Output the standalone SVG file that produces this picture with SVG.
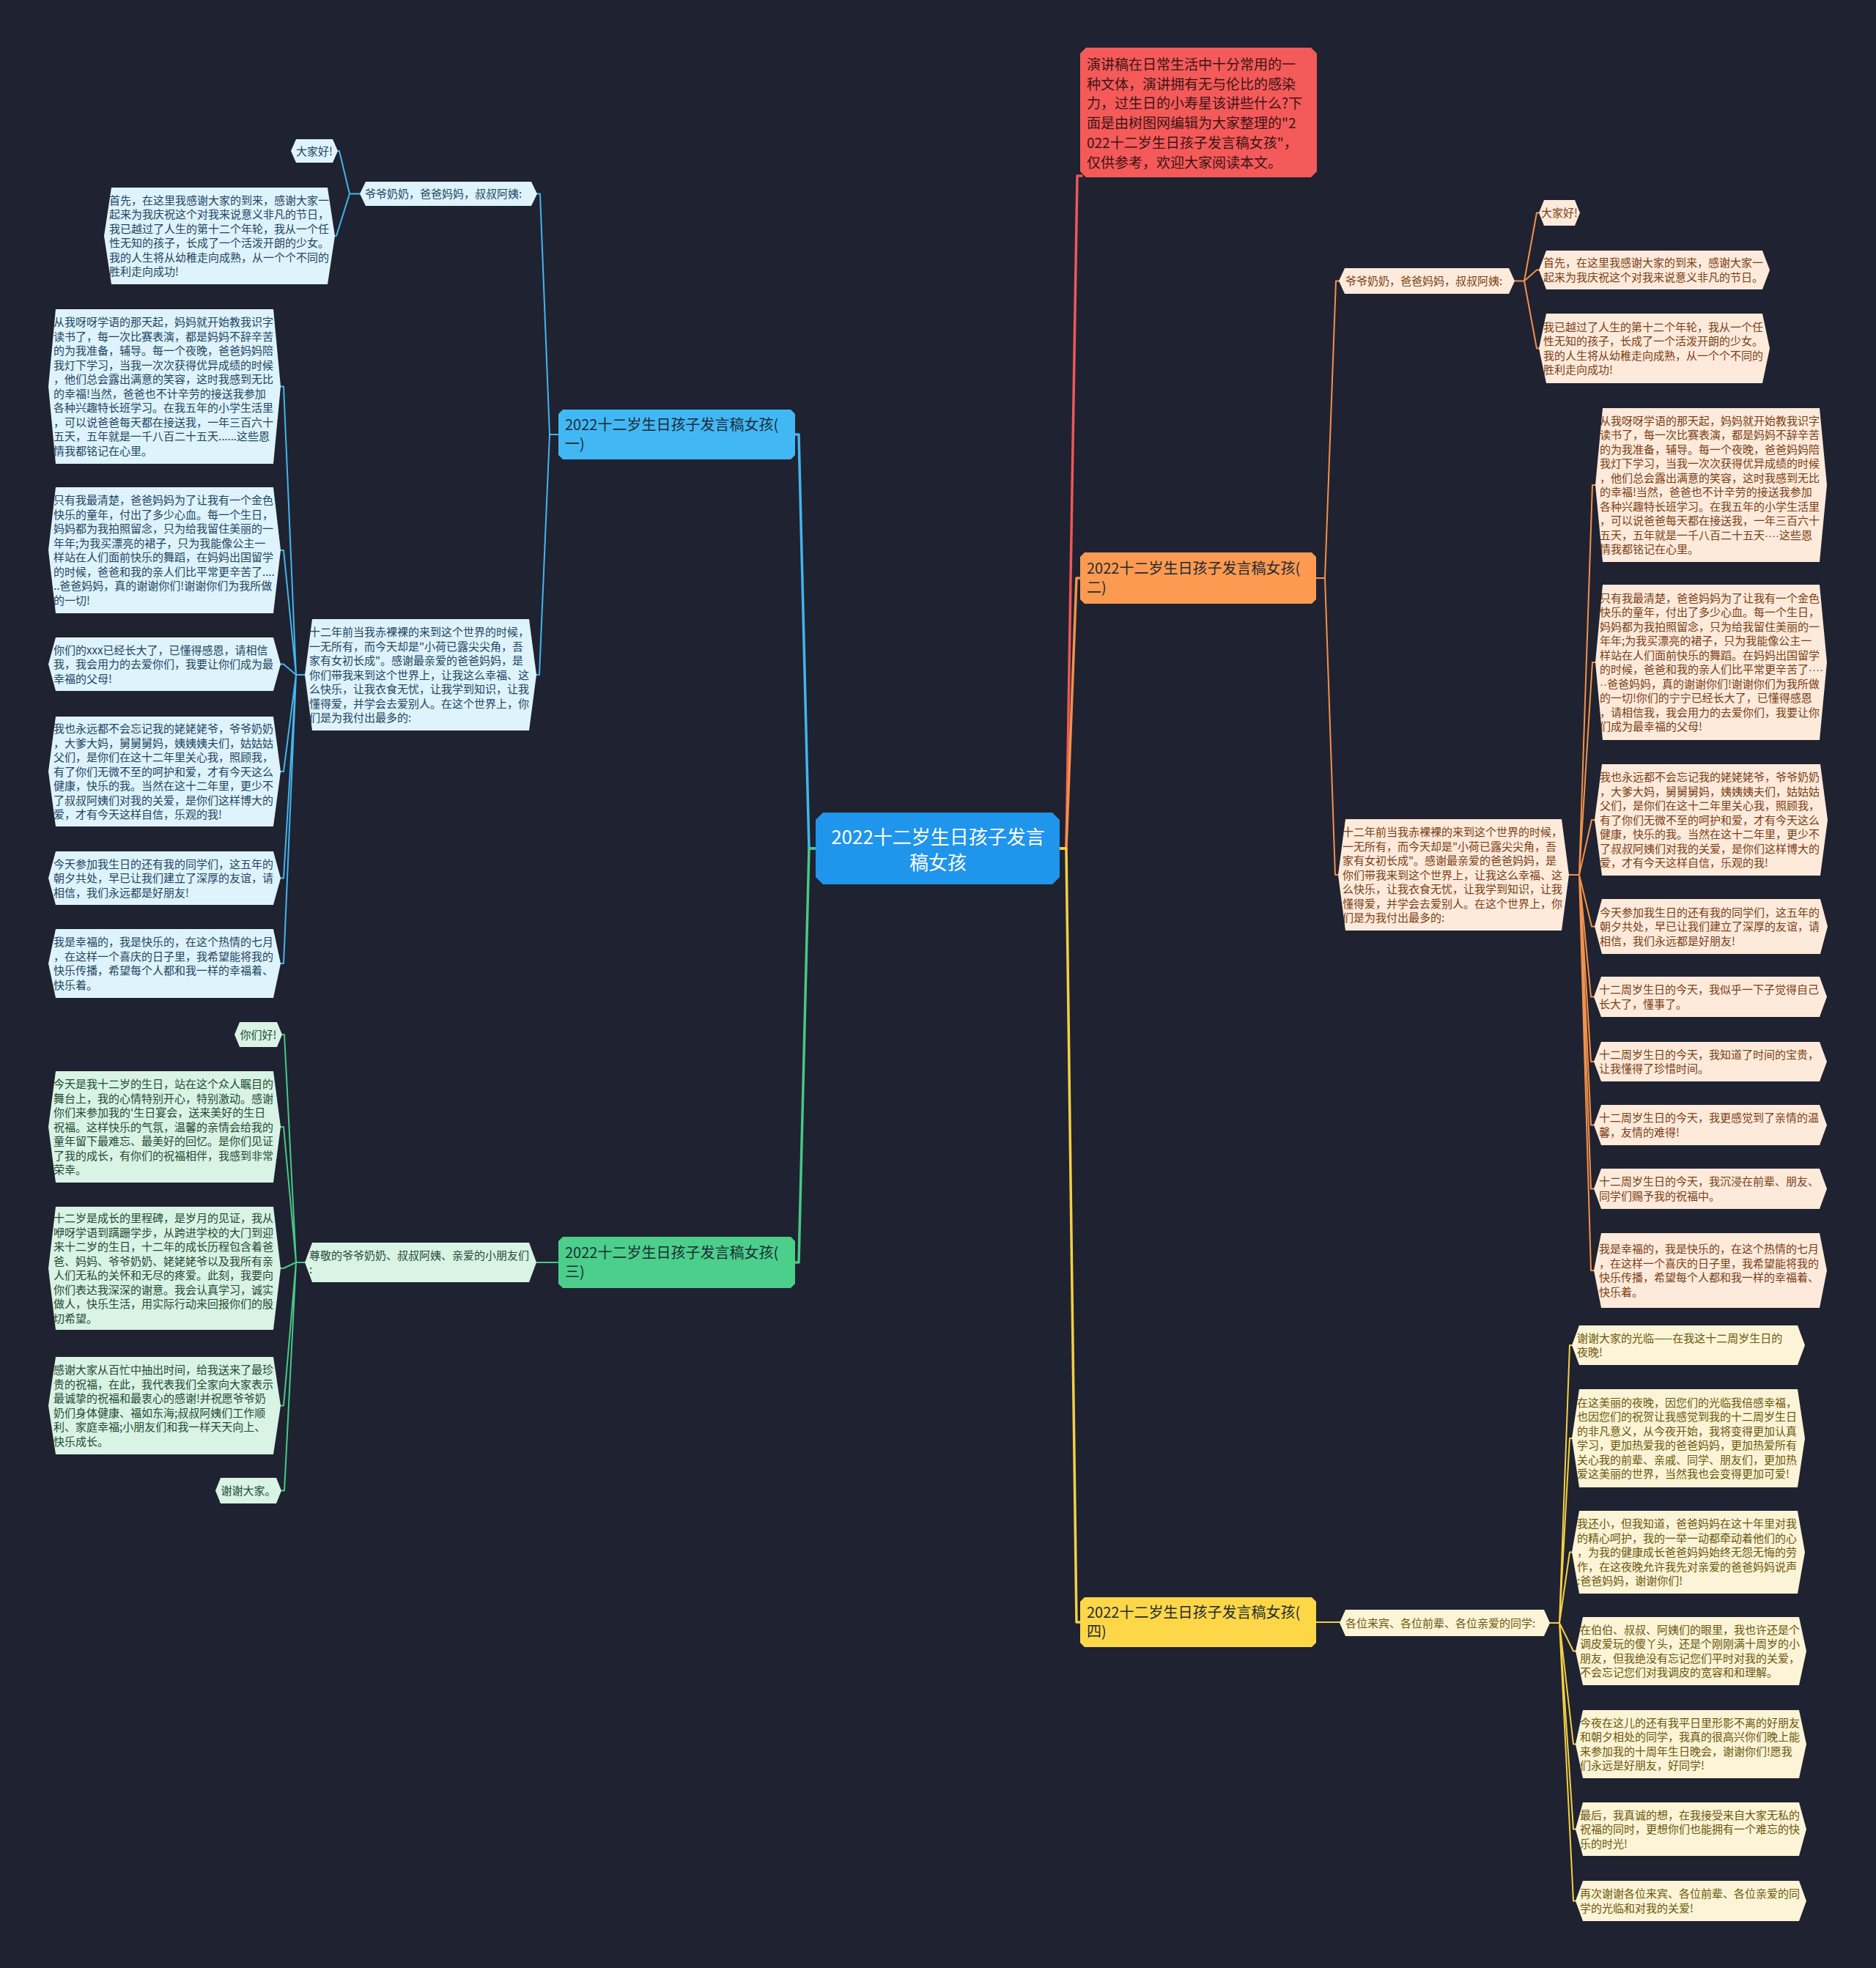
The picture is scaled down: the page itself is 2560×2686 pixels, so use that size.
<svg xmlns="http://www.w3.org/2000/svg" width="2560" height="2686" viewBox="0 0 2560 2686">
<style>
text{font-family:"Noto Sans CJK SC","Noto Sans",sans-serif;}
.t{font-size:15px;}
.d{font-family:"Liberation Sans",sans-serif;}
.lb{fill:#def3fc;} .tb{fill:#1d4560;}
.lg{fill:#d9f3e5;} .tg{fill:#1e4a33;}
.lo{fill:#fdeadb;} .to{fill:#7a3e14;}
.ly{fill:#fcf4d6;} .ty{fill:#6a570c;}
.br{font-size:20px;fill:#1d2a36;}
.c{fill:none;stroke-linejoin:round;stroke-linecap:round;}
.cb{stroke:#42b5ef;} .cg{stroke:#46c987;} .co{stroke:#f3914b;} .cr{stroke:#ef5757;} .cy{stroke:#f3d043;}
.m{stroke-width:3.5;} .s{stroke-width:2;}
</style>
<rect width="2560" height="2686" fill="#1f2230"/>
<g id="connectors">
<path class="c cb m" d="M1113,1158 H1104 L1090,593 H1085"/>
<path class="c cg m" d="M1113,1158 H1104 L1090,1723 H1085"/>
<path class="c cr m" d="M1446,1158 H1455 L1470,240 H1476"/>
<path class="c co m" d="M1446,1158 H1455 L1469,789 H1474"/>
<path class="c cy m" d="M1446,1158 H1455 L1469,2214 H1474"/>
<path class="c cb s" d="M762,593 H750 L737,264.5 H733 M750,593 L736,921 H732"/>
<path class="c cb s" d="M491,264.5 H477 L463,206 H461 M477,264.5 L459,322 H457"/>
<path class="c cb s" d="M416,921 H404 L387,527.5 H383 M404,921 L387,751 H383 M404,921 L387,906.5 H383 M404,921 L387,1053 H383 M404,921 L387,1198.5 H383 M404,921 L387,1315 H383"/>
<path class="c cg s" d="M762,1723 H732"/>
<path class="c cg s" d="M416,1723 H404 L388,1412 H385 M404,1723 L387,1538 H383 M404,1723 L387,1731 H383 M404,1723 L387,1918.5 H383 M404,1723 L388,2034.5 H384"/>
<path class="c co s" d="M1796,789 H1808 L1823,383.5 H1827 M1808,789 L1822,1194 H1826"/>
<path class="c co s" d="M2067,383.5 H2080 L2097,290.5 H2100 M2080,383.5 L2097,368.5 H2100 M2080,383.5 L2097,475.5 H2100"/>
<path class="c co s" d="M2141,1194 H2155 L2173,662 H2177 M2155,1194 L2173,904 H2177 M2155,1194 L2172,1119 H2176 M2155,1194 L2172,1264.5 H2176 M2155,1194 L2171,1360.5 H2175 M2155,1194 L2171,1449 H2175 M2155,1194 L2171,1535.5 H2175 M2155,1194 L2171,1622.5 H2175 M2155,1194 L2171,1734 H2175"/>
<path class="c cy s" d="M1796,2214 H1828"/>
<path class="c cy s" d="M2115,2215 H2128 L2142,1836 H2145 M2128,2215 L2142,1963 H2145 M2128,2215 L2142,2118.5 H2145 M2128,2215 L2147,2253.5 H2150 M2128,2215 L2147,2380.5 H2150 M2128,2215 L2147,2496.5 H2150 M2128,2215 L2147,2594.5 H2150"/>
</g>

<g id="root">
<polygon points="1123,1109 1436,1109 1446,1119 1446,1197 1436,1207 1123,1207 1113,1197 1113,1119" fill="#1f95eb"/>
<text x="1280" y="1152" font-size="26" fill="#ffffff" text-anchor="middle">2022十二岁生日孩子发言</text>
<text x="1280" y="1187" font-size="26" fill="#ffffff" text-anchor="middle">稿女孩</text>
</g>

<g id="intro">
<polygon points="1482,65 1789,65 1797,73 1797,234 1789,242 1482,242 1474,234 1474,73" fill="#f45a5a"/>
<text font-size="19" fill="#3b1414" x="1483" y="95"><tspan x="1483">演讲稿在日常生活中十分常用的一</tspan><tspan x="1483" dy="26.7">种文体，演讲拥有无与伦比的感染</tspan><tspan x="1483" dy="26.7">力，过生日的小寿星该讲些什么?下</tspan><tspan x="1483" dy="26.7">面是由树图网编辑为大家整理的"2</tspan><tspan x="1483" dy="26.7">022十二岁生日孩子发言稿女孩"，</tspan><tspan x="1483" dy="26.7">仅供参考，欢迎大家阅读本文。</tspan></text>
</g>

<g id="branch1">
<polygon points="768,559 1079,559 1085,565 1085,621 1079,627 768,627 762,621 762,565" fill="#41b8f4"/>
<text class="br" x="771" y="587"><tspan x="771">2022十二岁生日孩子发言稿女孩(</tspan><tspan x="771" dy="26">一)</tspan></text>
</g>
<g id="branch2">
<polygon points="1480,754 1790,754 1796,760 1796,818 1790,824 1480,824 1474,818 1474,760" fill="#fb9a50"/>
<text class="br" x="1483" y="783"><tspan x="1483">2022十二岁生日孩子发言稿女孩(</tspan><tspan x="1483" dy="26">二)</tspan></text>
</g>
<g id="branch3">
<polygon points="768,1688 1079,1688 1085,1694 1085,1752 1079,1758 768,1758 762,1752 762,1694" fill="#4bcf8b"/>
<text class="br" x="771" y="1717"><tspan x="771">2022十二岁生日孩子发言稿女孩(</tspan><tspan x="771" dy="26">三)</tspan></text>
</g>
<g id="branch4">
<polygon points="1480,2180 1790,2180 1796,2186 1796,2242 1790,2248 1480,2248 1474,2242 1474,2186" fill="#fdd748"/>
<text class="br" x="1483" y="2208"><tspan x="1483">2022十二岁生日孩子发言稿女孩(</tspan><tspan x="1483" dy="26">四)</tspan></text>
</g>

<!-- Branch 1 (blue) -->
<g id="b1-hello">
<polygon class="lb" points="404,190 454,190 461,206 454,222 404,222 397,206"/>
<text class="t tb" x="429" y="211.5" text-anchor="middle">大家好!</text>
</g>
<g id="b1-greet">
<polygon class="lb" points="499,248 725,248 733,264.5 725,281 499,281 491,264.5"/>
<text class="t tb" x="498" y="270">爷爷奶奶，爸爸妈妈，叔叔阿姨:</text>
</g>
<g id="b1-first">
<polygon class="lb" points="152,256 447,256 457,322 447,388 152,388 142,322"/>
<text class="t tb" x="149" y="278.75"><tspan x="149">首先，在这里我感谢大家的到来，感谢大家一</tspan><tspan x="149" dy="19.5">起来为我庆祝这个对我来说意义非凡的节日，</tspan><tspan x="149" dy="19.5">我已越过了人生的第十二个年轮，我从一个任</tspan><tspan x="149" dy="19.5">性无知的孩子，长成了一个活泼开朗的少女。</tspan><tspan x="149" dy="19.5">我的人生将从幼稚走向成熟，从一个个不同的</tspan><tspan x="149" dy="19.5">胜利走向成功!</tspan></text>
</g>
<g id="b1-twelve">
<polygon class="lb" points="426,845 722,845 732,921 722,997 426,997 416,921"/>
<text class="t tb" x="422" y="868"><tspan x="422">十二年前当我赤裸裸的来到这个世界的时候，</tspan><tspan x="422" dy="19.5">一无所有，而今天却是"小荷已露尖尖角，吾</tspan><tspan x="422" dy="19.5">家有女初长成"。感谢最亲爱的爸爸妈妈，是</tspan><tspan x="422" dy="19.5">你们带我来到这个世界上，让我这么幸福、这</tspan><tspan x="422" dy="19.5">么快乐，让我衣食无忧，让我学到知识，让我</tspan><tspan x="422" dy="19.5">懂得爱，并学会去爱别人。在这个世界上，你</tspan><tspan x="422" dy="19.5">们是为我付出最多的:</tspan></text>
</g>
<g id="b1-p1">
<polygon class="lb" points="76,422 373,422 383,527.5 373,633 76,633 66,527.5"/>
<text class="t tb" x="73" y="445.25"><tspan x="73">从我呀呀学语的那天起，妈妈就开始教我识字</tspan><tspan x="73" dy="19.5">读书了，每一次比赛表演，都是妈妈不辞辛苦</tspan><tspan x="73" dy="19.5">的为我准备，辅导。每一个夜晚，爸爸妈妈陪</tspan><tspan x="73" dy="19.5">我灯下学习，当我一次次获得优异成绩的时候</tspan><tspan x="73" dy="19.5">，他们总会露出满意的笑容，这时我感到无比</tspan><tspan x="73" dy="19.5">的幸福!当然，爸爸也不计辛劳的接送我参加</tspan><tspan x="73" dy="19.5">各种兴趣特长班学习。在我五年的小学生活里</tspan><tspan x="73" dy="19.5">，可以说爸爸每天都在接送我，一年三百六十</tspan><tspan x="73" dy="19.5">五天，五年就是一千八百二十五天......这些恩</tspan><tspan x="73" dy="19.5">情我都铭记在心里。</tspan></text>
</g>
<g id="b1-p2">
<polygon class="lb" points="76,665 373,665 383,751 373,837 76,837 66,751"/>
<text class="t tb" x="73" y="688.25"><tspan x="73">只有我最清楚，爸爸妈妈为了让我有一个金色</tspan><tspan x="73" dy="19.5">快乐的童年，付出了多少心血。每一个生日，</tspan><tspan x="73" dy="19.5">妈妈都为我拍照留念，只为给我留住美丽的一</tspan><tspan x="73" dy="19.5">年年;为我买漂亮的裙子，只为我能像公主一</tspan><tspan x="73" dy="19.5">样站在人们面前快乐的舞蹈，在妈妈出国留学</tspan><tspan x="73" dy="19.5">的时候，爸爸和我的亲人们比平常更辛苦了....</tspan><tspan x="73" dy="19.5">..爸爸妈妈，真的谢谢你们!谢谢你们为我所做</tspan><tspan x="73" dy="19.5">的一切!</tspan></text>
</g>
<g id="b1-p3">
<polygon class="lb" points="76,870 373,870 383,906.5 373,943 76,943 66,906.5"/>
<text class="t tb" x="73" y="892.5"><tspan x="73">你们的xxx已经长大了，已懂得感恩，请相信</tspan><tspan x="73" dy="19.5">我，我会用力的去爱你们，我要让你们成为最</tspan><tspan x="73" dy="19.5">幸福的父母!</tspan></text>
</g>
<g id="b1-p4">
<polygon class="lb" points="76,978 373,978 383,1053 373,1128 76,1128 66,1053"/>
<text class="t tb" x="73" y="1000"><tspan x="73">我也永远都不会忘记我的姥姥姥爷，爷爷奶奶</tspan><tspan x="73" dy="19.5">，大爹大妈，舅舅舅妈，姨姨姨夫们，姑姑姑</tspan><tspan x="73" dy="19.5">父们，是你们在这十二年里关心我，照顾我，</tspan><tspan x="73" dy="19.5">有了你们无微不至的呵护和爱，才有今天这么</tspan><tspan x="73" dy="19.5">健康，快乐的我。当然在这十二年里，更少不</tspan><tspan x="73" dy="19.5">了叔叔阿姨们对我的关爱，是你们这样博大的</tspan><tspan x="73" dy="19.5">爱，才有今天这样自信，乐观的我!</tspan></text>
</g>
<g id="b1-p5">
<polygon class="lb" points="76,1162 373,1162 383,1198.5 373,1235 76,1235 66,1198.5"/>
<text class="t tb" x="73" y="1184.5"><tspan x="73">今天参加我生日的还有我的同学们，这五年的</tspan><tspan x="73" dy="19.5">朝夕共处，早已让我们建立了深厚的友谊，请</tspan><tspan x="73" dy="19.5">相信，我们永远都是好朋友!</tspan></text>
</g>
<g id="b1-p6">
<polygon class="lb" points="76,1268 373,1268 383,1315 373,1362 76,1362 66,1315"/>
<text class="t tb" x="73" y="1291.25"><tspan x="73">我是幸福的，我是快乐的，在这个热情的七月</tspan><tspan x="73" dy="19.5">，在这样一个喜庆的日子里，我希望能将我的</tspan><tspan x="73" dy="19.5">快乐传播，希望每个人都和我一样的幸福着、</tspan><tspan x="73" dy="19.5">快乐着。</tspan></text>
</g>

<!-- Branch 3 (green) -->
<g id="b3-greet">
<polygon class="lg" points="426,1696 722,1696 732,1723 722,1750 426,1750 416,1723"/>
<text class="t tg" x="422" y="1718.75"><tspan x="422">尊敬的爷爷奶奶、叔叔阿姨、亲爱的小朋友们</tspan><tspan x="422" dy="19.5">:</tspan></text>
</g>
<g id="b3-hello">
<polygon class="lg" points="327,1395 378,1395 385,1412 378,1429 327,1429 320,1412"/>
<text class="t tg" x="352.5" y="1417.5" text-anchor="middle">你们好!</text>
</g>
<g id="b3-p1">
<polygon class="lg" points="76,1462 373,1462 383,1538 373,1614 76,1614 66,1538"/>
<text class="t tg" x="73" y="1485"><tspan x="73">今天是我十二岁的生日，站在这个众人瞩目的</tspan><tspan x="73" dy="19.5">舞台上，我的心情特别开心，特别激动。感谢</tspan><tspan x="73" dy="19.5">你们来参加我的'生日宴会，送来美好的生日</tspan><tspan x="73" dy="19.5">祝福。这样快乐的气氛，温馨的亲情会给我的</tspan><tspan x="73" dy="19.5">童年留下最难忘、最美好的回忆。是你们见证</tspan><tspan x="73" dy="19.5">了我的成长，有你们的祝福相伴，我感到非常</tspan><tspan x="73" dy="19.5">荣幸。</tspan></text>
</g>
<g id="b3-p2">
<polygon class="lg" points="76,1647 373,1647 383,1731 373,1815 76,1815 66,1731"/>
<text class="t tg" x="73" y="1668.25"><tspan x="73">十二岁是成长的里程碑，是岁月的见证，我从</tspan><tspan x="73" dy="19.5">咿呀学语到蹒跚学步，从跨进学校的大门到迎</tspan><tspan x="73" dy="19.5">来十二岁的生日，十二年的成长历程包含着爸</tspan><tspan x="73" dy="19.5">爸、妈妈、爷爷奶奶、姥姥姥爷以及我所有亲</tspan><tspan x="73" dy="19.5">人们无私的关怀和无尽的疼爱。此刻，我要向</tspan><tspan x="73" dy="19.5">你们表达我深深的谢意。我会认真学习，诚实</tspan><tspan x="73" dy="19.5">做人，快乐生活，用实际行动来回报你们的殷</tspan><tspan x="73" dy="19.5">切希望。</tspan></text>
</g>
<g id="b3-p3">
<polygon class="lg" points="76,1852 373,1852 383,1918.5 373,1985 76,1985 66,1918.5"/>
<text class="t tg" x="73" y="1875.25"><tspan x="73">感谢大家从百忙中抽出时间，给我送来了最珍</tspan><tspan x="73" dy="19.5">贵的祝福，在此，我代表我们全家向大家表示</tspan><tspan x="73" dy="19.5">最诚挚的祝福和最衷心的感谢!并祝愿爷爷奶</tspan><tspan x="73" dy="19.5">奶们身体健康、福如东海;叔叔阿姨们工作顺</tspan><tspan x="73" dy="19.5">利、家庭幸福;小朋友们和我一样天天向上、</tspan><tspan x="73" dy="19.5">快乐成长。</tspan></text>
</g>
<g id="b3-thanks">
<polygon class="lg" points="301,2017 377,2017 384,2034.5 377,2052 301,2052 294,2034.5"/>
<text class="t tg" x="339" y="2040" text-anchor="middle">谢谢大家。</text>
</g>

<!-- Branch 2 (orange) -->
<g id="b2-greet">
<polygon class="lo" points="1835,366 2059,366 2067,383.5 2059,401 1835,401 1827,383.5"/>
<text class="t to" x="1836" y="389">爷爷奶奶，爸爸妈妈，叔叔阿姨:</text>
</g>
<g id="b2-hello">
<polygon class="lo" points="2107,273 2149,273 2156,290.5 2149,308 2107,308 2100,290.5"/>
<text class="t to" x="2128" y="296" text-anchor="middle">大家好!</text>
</g>
<g id="b2-first">
<polygon class="lo" points="2110,342 2405,342 2415,368.5 2405,395 2110,395 2100,368.5"/>
<text class="t to" x="2106" y="364.25"><tspan x="2106">首先，在这里我感谢大家的到来，感谢大家一</tspan><tspan x="2106" dy="19.5">起来为我庆祝这个对我来说意义非凡的节日。</tspan></text>
</g>
<g id="b2-crossed">
<polygon class="lo" points="2110,428 2405,428 2415,475.5 2405,523 2110,523 2100,475.5"/>
<text class="t to" x="2106" y="451.75"><tspan x="2106">我已越过了人生的第十二个年轮，我从一个任</tspan><tspan x="2106" dy="19.5">性无知的孩子，长成了一个活泼开朗的少女。</tspan><tspan x="2106" dy="19.5">我的人生将从幼稚走向成熟，从一个个不同的</tspan><tspan x="2106" dy="19.5">胜利走向成功!</tspan></text>
</g>
<g id="b2-twelve">
<polygon class="lo" points="1836,1118 2131,1118 2141,1194 2131,1270 1836,1270 1826,1194"/>
<text class="t to" x="1832" y="1141"><tspan x="1832">十二年前当我赤裸裸的来到这个世界的时候，</tspan><tspan x="1832" dy="19.5">一无所有，而今天却是"小荷已露尖尖角，吾</tspan><tspan x="1832" dy="19.5">家有女初长成"。感谢最亲爱的爸爸妈妈，是</tspan><tspan x="1832" dy="19.5">你们带我来到这个世界上，让我这么幸福、这</tspan><tspan x="1832" dy="19.5">么快乐，让我衣食无忧，让我学到知识，让我</tspan><tspan x="1832" dy="19.5">懂得爱，并学会去爱别人。在这个世界上，你</tspan><tspan x="1832" dy="19.5">们是为我付出最多的:</tspan></text>
</g>
<g id="b2-p1">
<polygon class="lo" points="2187,557 2483,557 2493,662 2483,767 2187,767 2177,662"/>
<text class="t to" x="2183" y="579.75"><tspan x="2183">从我呀呀学语的那天起，妈妈就开始教我识字</tspan><tspan x="2183" dy="19.5">读书了，每一次比赛表演，都是妈妈不辞辛苦</tspan><tspan x="2183" dy="19.5">的为我准备，辅导。每一个夜晚，爸爸妈妈陪</tspan><tspan x="2183" dy="19.5">我灯下学习，当我一次次获得优异成绩的时候</tspan><tspan x="2183" dy="19.5">，他们总会露出满意的笑容，这时我感到无比</tspan><tspan x="2183" dy="19.5">的幸福!当然，爸爸也不计辛劳的接送我参加</tspan><tspan x="2183" dy="19.5">各种兴趣特长班学习。在我五年的小学生活里</tspan><tspan x="2183" dy="19.5">，可以说爸爸每天都在接送我，一年三百六十</tspan><tspan x="2183" dy="19.5">五天，五年就是一千八百二十五天<tspan class="d">····</tspan>这些恩</tspan><tspan x="2183" dy="19.5">情我都铭记在心里。</tspan></text>
</g>
<g id="b2-p2">
<polygon class="lo" points="2187,798 2483,798 2493,904 2483,1010 2187,1010 2177,904"/>
<text class="t to" x="2183" y="821.75"><tspan x="2183">只有我最清楚，爸爸妈妈为了让我有一个金色</tspan><tspan x="2183" dy="19.5">快乐的童年，付出了多少心血。每一个生日，</tspan><tspan x="2183" dy="19.5">妈妈都为我拍照留念，只为给我留住美丽的一</tspan><tspan x="2183" dy="19.5">年年;为我买漂亮的裙子，只为我能像公主一</tspan><tspan x="2183" dy="19.5">样站在人们面前快乐的舞蹈。在妈妈出国留学</tspan><tspan x="2183" dy="19.5">的时候，爸爸和我的亲人们比平常更辛苦了<tspan class="d">····</tspan></tspan><tspan x="2183" dy="19.5"><tspan class="d">··</tspan>爸爸妈妈，真的谢谢你们!谢谢你们为我所做</tspan><tspan x="2183" dy="19.5">的一切!你们的宁宁已经长大了，已懂得感恩</tspan><tspan x="2183" dy="19.5">，请相信我，我会用力的去爱你们，我要让你</tspan><tspan x="2183" dy="19.5">们成为最幸福的父母!</tspan></text>
</g>
<g id="b2-p3">
<polygon class="lo" points="2186,1043 2484,1043 2494,1119 2484,1195 2186,1195 2176,1119"/>
<text class="t to" x="2183" y="1066"><tspan x="2183">我也永远都不会忘记我的姥姥姥爷，爷爷奶奶</tspan><tspan x="2183" dy="19.5">，大爹大妈，舅舅舅妈，姨姨姨夫们，姑姑姑</tspan><tspan x="2183" dy="19.5">父们，是你们在这十二年里关心我，照顾我，</tspan><tspan x="2183" dy="19.5">有了你们无微不至的呵护和爱，才有今天这么</tspan><tspan x="2183" dy="19.5">健康，快乐的我。当然在这十二年里，更少不</tspan><tspan x="2183" dy="19.5">了叔叔阿姨们对我的关爱，是你们这样博大的</tspan><tspan x="2183" dy="19.5">爱，才有今天这样自信，乐观的我!</tspan></text>
</g>
<g id="b2-p4">
<polygon class="lo" points="2186,1227 2484,1227 2494,1264.5 2484,1302 2186,1302 2176,1264.5"/>
<text class="t to" x="2183" y="1250.5"><tspan x="2183">今天参加我生日的还有我的同学们，这五年的</tspan><tspan x="2183" dy="19.5">朝夕共处，早已让我们建立了深厚的友谊，请</tspan><tspan x="2183" dy="19.5">相信，我们永远都是好朋友!</tspan></text>
</g>
<g id="b2-p5">
<polygon class="lo" points="2185,1333 2483,1333 2493,1360.5 2483,1388 2185,1388 2175,1360.5"/>
<text class="t to" x="2182" y="1356.25"><tspan x="2182">十二周岁生日的今天，我似乎一下子觉得自己</tspan><tspan x="2182" dy="19.5">长大了，懂事了。</tspan></text>
</g>
<g id="b2-p6">
<polygon class="lo" points="2185,1422 2483,1422 2493,1449 2483,1476 2185,1476 2175,1449"/>
<text class="t to" x="2182" y="1444.75"><tspan x="2182">十二周岁生日的今天，我知道了时间的宝贵，</tspan><tspan x="2182" dy="19.5">让我懂得了珍惜时间。</tspan></text>
</g>
<g id="b2-p7">
<polygon class="lo" points="2185,1508 2483,1508 2493,1535.5 2483,1563 2185,1563 2175,1535.5"/>
<text class="t to" x="2182" y="1531.25"><tspan x="2182">十二周岁生日的今天，我更感觉到了亲情的温</tspan><tspan x="2182" dy="19.5">馨，友情的难得!</tspan></text>
</g>
<g id="b2-p8">
<polygon class="lo" points="2185,1595 2483,1595 2493,1622.5 2483,1650 2185,1650 2175,1622.5"/>
<text class="t to" x="2182" y="1618.25"><tspan x="2182">十二周岁生日的今天，我沉浸在前辈、朋友、</tspan><tspan x="2182" dy="19.5">同学们赐予我的祝福中。</tspan></text>
</g>
<g id="b2-p9">
<polygon class="lo" points="2185,1683 2483,1683 2493,1734 2483,1785 2185,1785 2175,1734"/>
<text class="t to" x="2182" y="1710.25"><tspan x="2182">我是幸福的，我是快乐的，在这个热情的七月</tspan><tspan x="2182" dy="19.5">，在这样一个喜庆的日子里，我希望能将我的</tspan><tspan x="2182" dy="19.5">快乐传播，希望每个人都和我一样的幸福着、</tspan><tspan x="2182" dy="19.5">快乐着。</tspan></text>
</g>

<!-- Branch 4 (yellow) -->
<g id="b4-greet">
<polygon class="ly" points="1836,2197 2107,2197 2115,2215 2107,2233 1836,2233 1828,2215"/>
<text class="t ty" x="1836" y="2220.5">各位来宾、各位前辈、各位亲爱的同学:</text>
</g>
<g id="b4-p1">
<polygon class="ly" points="2155,1809 2453,1809 2463,1836 2453,1863 2155,1863 2145,1836"/>
<text class="t ty" x="2152" y="1831.75"><tspan x="2152">谢谢大家的光临——在我这十二周岁生日的</tspan><tspan x="2152" dy="19.5">夜晚!</tspan></text>
</g>
<g id="b4-p2">
<polygon class="ly" points="2155,1896 2453,1896 2463,1963 2453,2030 2155,2030 2145,1963"/>
<text class="t ty" x="2152" y="1919.75"><tspan x="2152">在这美丽的夜晚，因您们的光临我倍感幸福，</tspan><tspan x="2152" dy="19.5">也因您们的祝贺让我感觉到我的十二周岁生日</tspan><tspan x="2152" dy="19.5">的非凡意义，从今夜开始，我将变得更加认真</tspan><tspan x="2152" dy="19.5">学习，更加热爱我的爸爸妈妈，更加热爱所有</tspan><tspan x="2152" dy="19.5">关心我的前辈、亲戚、同学、朋友们，更加热</tspan><tspan x="2152" dy="19.5">爱这美丽的世界，当然我也会变得更加可爱!</tspan></text>
</g>
<g id="b4-p3">
<polygon class="ly" points="2155,2062 2453,2062 2463,2118.5 2453,2175 2155,2175 2145,2118.5"/>
<text class="t ty" x="2152" y="2085"><tspan x="2152">我还小，但我知道，爸爸妈妈在这十年里对我</tspan><tspan x="2152" dy="19.5">的精心呵护，我的一举一动都牵动着他们的心</tspan><tspan x="2152" dy="19.5">，为我的健康成长爸爸妈妈始终无怨无悔的劳</tspan><tspan x="2152" dy="19.5">作，在这夜晚允许我先对亲爱的爸爸妈妈说声</tspan><tspan x="2152" dy="19.5">:爸爸妈妈，谢谢你们!</tspan></text>
</g>
<g id="b4-p4">
<polygon class="ly" points="2160,2207 2455,2207 2465,2253.5 2455,2300 2160,2300 2150,2253.5"/>
<text class="t ty" x="2156" y="2229.75"><tspan x="2156">在伯伯、叔叔、阿姨们的眼里，我也许还是个</tspan><tspan x="2156" dy="19.5">调皮爱玩的傻丫头，还是个刚刚满十周岁的小</tspan><tspan x="2156" dy="19.5">朋友，但我绝没有忘记您们平时对我的关爱，</tspan><tspan x="2156" dy="19.5">不会忘记您们对我调皮的宽容和和理解。</tspan></text>
</g>
<g id="b4-p5">
<polygon class="ly" points="2160,2334 2455,2334 2465,2380.5 2455,2427 2160,2427 2150,2380.5"/>
<text class="t ty" x="2156" y="2356.75"><tspan x="2156">今夜在这儿的还有我平日里形影不离的好朋友</tspan><tspan x="2156" dy="19.5">和朝夕相处的同学，我真的很高兴你们晚上能</tspan><tspan x="2156" dy="19.5">来参加我的十周年生日晚会，谢谢你们!愿我</tspan><tspan x="2156" dy="19.5">们永远是好朋友，好同学!</tspan></text>
</g>
<g id="b4-p6">
<polygon class="ly" points="2160,2460 2455,2460 2465,2496.5 2455,2533 2160,2533 2150,2496.5"/>
<text class="t ty" x="2156" y="2482.5"><tspan x="2156">最后，我真诚的想，在我接受来自大家无私的</tspan><tspan x="2156" dy="19.5">祝福的同时，更想你们也能拥有一个难忘的快</tspan><tspan x="2156" dy="19.5">乐的时光!</tspan></text>
</g>
<g id="b4-p7">
<polygon class="ly" points="2160,2567 2455,2567 2465,2594.5 2455,2622 2160,2622 2150,2594.5"/>
<text class="t ty" x="2156" y="2590.25"><tspan x="2156">再次谢谢各位来宾、各位前辈、各位亲爱的同</tspan><tspan x="2156" dy="19.5">学的光临和对我的关爱!</tspan></text>
</g>
</svg>
